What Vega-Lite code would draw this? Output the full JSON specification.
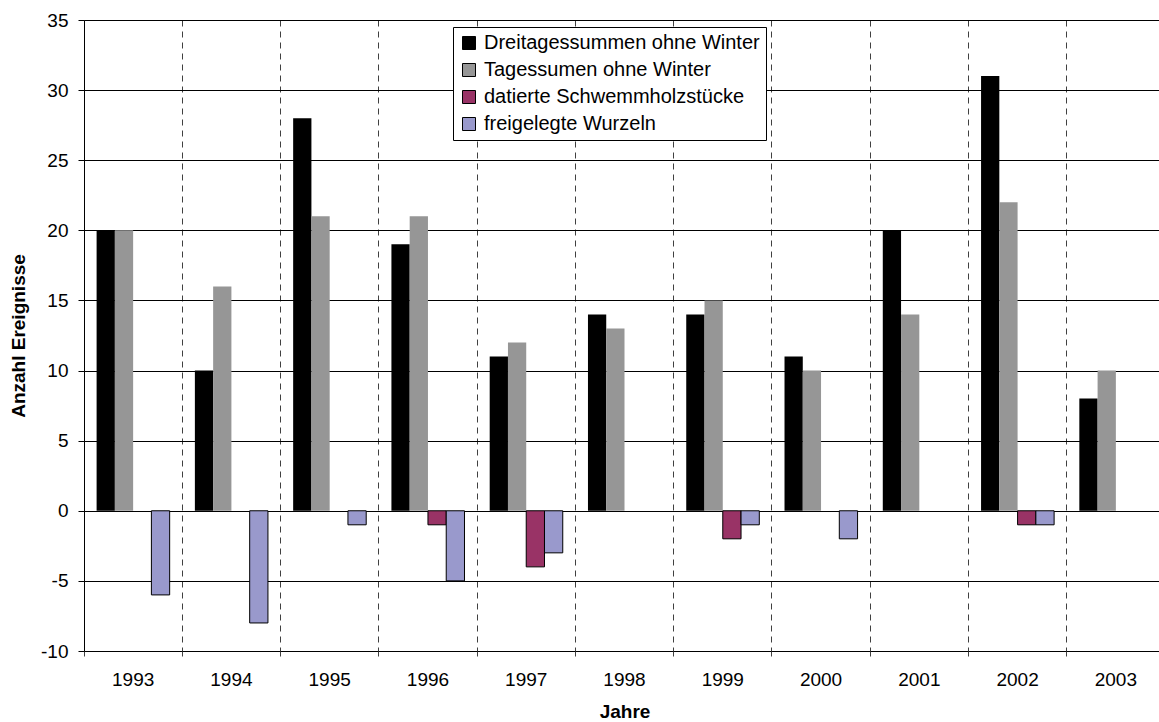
{
  "$schema": "https://vega.github.io/schema/vega-lite/v6.json",
  "width": 1075,
  "height": 631,
  "autosize": {"type": "none"},
  "padding": {"left": 84, "top": 20, "right": 0, "bottom": 71},
  "background": "white",
  "config": {
    "font": "Liberation Sans",
    "view": {"stroke": null}
  },
  "data": {
    "values": [
      {"jahr": "1993", "serie": "Dreitagessummen ohne Winter", "wert": 20},
      {"jahr": "1993", "serie": "Tagessumen ohne Winter", "wert": 20},
      {"jahr": "1993", "serie": "freigelegte Wurzeln", "wert": -6},
      {"jahr": "1994", "serie": "Dreitagessummen ohne Winter", "wert": 10},
      {"jahr": "1994", "serie": "Tagessumen ohne Winter", "wert": 16},
      {"jahr": "1994", "serie": "freigelegte Wurzeln", "wert": -8},
      {"jahr": "1995", "serie": "Dreitagessummen ohne Winter", "wert": 28},
      {"jahr": "1995", "serie": "Tagessumen ohne Winter", "wert": 21},
      {"jahr": "1995", "serie": "freigelegte Wurzeln", "wert": -1},
      {"jahr": "1996", "serie": "Dreitagessummen ohne Winter", "wert": 19},
      {"jahr": "1996", "serie": "Tagessumen ohne Winter", "wert": 21},
      {"jahr": "1996", "serie": "datierte Schwemmholzstücke", "wert": -1},
      {"jahr": "1996", "serie": "freigelegte Wurzeln", "wert": -5},
      {"jahr": "1997", "serie": "Dreitagessummen ohne Winter", "wert": 11},
      {"jahr": "1997", "serie": "Tagessumen ohne Winter", "wert": 12},
      {"jahr": "1997", "serie": "datierte Schwemmholzstücke", "wert": -4},
      {"jahr": "1997", "serie": "freigelegte Wurzeln", "wert": -3},
      {"jahr": "1998", "serie": "Dreitagessummen ohne Winter", "wert": 14},
      {"jahr": "1998", "serie": "Tagessumen ohne Winter", "wert": 13},
      {"jahr": "1999", "serie": "Dreitagessummen ohne Winter", "wert": 14},
      {"jahr": "1999", "serie": "Tagessumen ohne Winter", "wert": 15},
      {"jahr": "1999", "serie": "datierte Schwemmholzstücke", "wert": -2},
      {"jahr": "1999", "serie": "freigelegte Wurzeln", "wert": -1},
      {"jahr": "2000", "serie": "Dreitagessummen ohne Winter", "wert": 11},
      {"jahr": "2000", "serie": "Tagessumen ohne Winter", "wert": 10},
      {"jahr": "2000", "serie": "freigelegte Wurzeln", "wert": -2},
      {"jahr": "2001", "serie": "Dreitagessummen ohne Winter", "wert": 20},
      {"jahr": "2001", "serie": "Tagessumen ohne Winter", "wert": 14},
      {"jahr": "2002", "serie": "Dreitagessummen ohne Winter", "wert": 31},
      {"jahr": "2002", "serie": "Tagessumen ohne Winter", "wert": 22},
      {"jahr": "2002", "serie": "datierte Schwemmholzstücke", "wert": -1},
      {"jahr": "2002", "serie": "freigelegte Wurzeln", "wert": -1},
      {"jahr": "2003", "serie": "Dreitagessummen ohne Winter", "wert": 8},
      {"jahr": "2003", "serie": "Tagessumen ohne Winter", "wert": 10}
    ]
  },
  "mark": {"type": "bar", "stroke": "black"},
  "encoding": {
    "x": {
      "field": "jahr",
      "type": "nominal",
      "sort": null,
      "scale": {"paddingInner": 0, "paddingOuter": 0, "range": [0, 1081]},
      "axis": {
        "title": "Jahre",
        "titleFont": "Liberation Sans",
        "titleFontSize": 19,
        "titleFontWeight": "bold",
        "titleColor": "black",
        "titlePadding": 13,
        "labelAngle": 0,
        "labelFont": "Liberation Sans",
        "labelFontSize": 19,
        "labelColor": "black",
        "labelPadding": 14,
        "bandPosition": 0,
        "domain": false,
        "ticks": true,
        "tickSize": 5,
        "tickColor": "#404040",
        "grid": true,
        "gridColor": "#404040",
        "gridDash": [6, 5],
        "gridWidth": 1
      }
    },
    "xOffset": {
      "field": "serie",
      "type": "nominal",
      "scale": {
        "domain": ["Dreitagessummen ohne Winter", "Tagessumen ohne Winter", "datierte Schwemmholzstücke", "freigelegte Wurzeln"],
        "paddingInner": 0,
        "paddingOuter": 0.69
      }
    },
    "y": {
      "field": "wert",
      "type": "quantitative",
      "scale": {"domain": [-10, 35], "nice": false, "zero": false},
      "axis": {
        "title": "Anzahl Ereignisse",
        "titleFont": "Liberation Sans",
        "titleFontSize": 19,
        "titleFontWeight": "bold",
        "titleColor": "black",
        "titlePadding": 12,
        "values": [-10, -5, 0, 5, 10, 15, 20, 25, 30, 35],
        "labelExpr": "'' + datum.value",
        "labelFont": "Liberation Sans",
        "labelFontSize": 19,
        "labelColor": "black",
        "labelPadding": 10,
        "tickSize": 6,
        "tickColor": "black",
        "domain": true,
        "domainColor": "black",
        "domainWidth": 1,
        "grid": true,
        "gridColor": "#000000",
        "gridWidth": 1
      }
    },
    "color": {
      "field": "serie",
      "type": "nominal",
      "scale": {
        "domain": ["Dreitagessummen ohne Winter", "Tagessumen ohne Winter", "datierte Schwemmholzstücke", "freigelegte Wurzeln"],
        "range": ["#000000", "#969696", "#993366", "#9999CC"]
      },
      "legend": {
        "title": null,
        "orient": "none",
        "legendX": 369,
        "legendY": 7,
        "fillColor": "white",
        "strokeColor": "black",
        "padding": 6,
        "symbolType": "square",
        "symbolSize": 169,
        "symbolStrokeColor": "black",
        "symbolStrokeWidth": 1,
        "symbolOpacity": 1,
        "labelFont": "Liberation Sans",
        "labelFontSize": 20,
        "labelColor": "black",
        "labelOffset": 5,
        "rowPadding": 7,
        "labelLimit": 400
      }
    },
    "strokeWidth": {
      "condition": {"test": "datum.wert < 0", "value": 1},
      "value": 0
    }
  }
}
